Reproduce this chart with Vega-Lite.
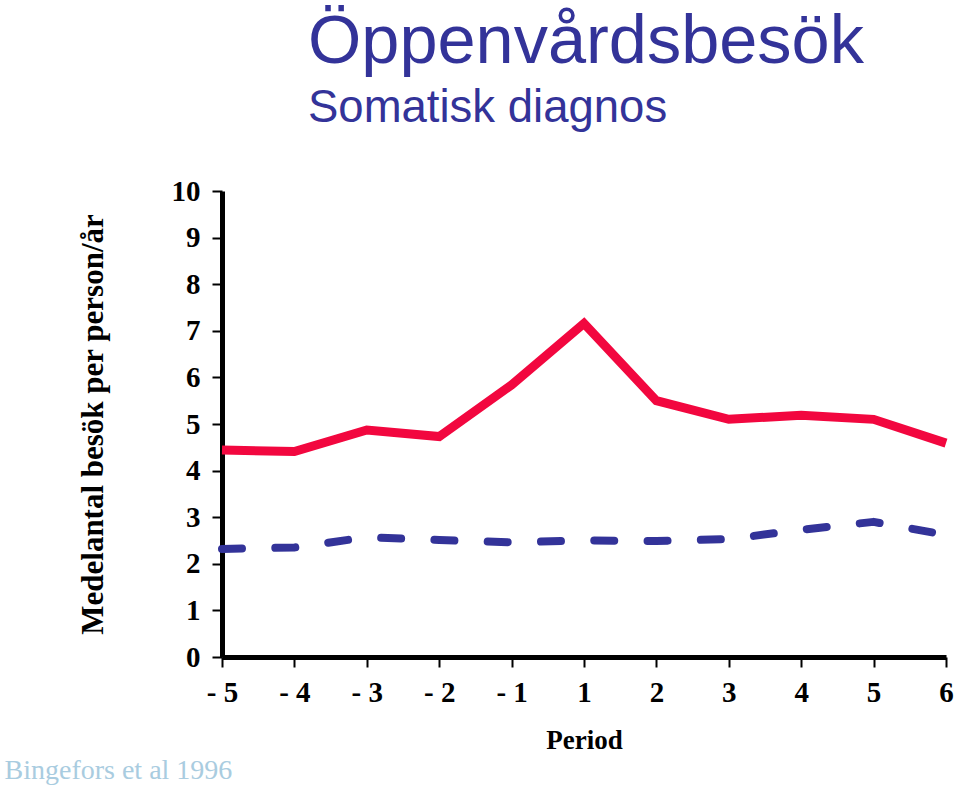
{
  "$schema": "https://vega.github.io/schema/vega-lite/v6.json",
  "autosize": "none",
  "padding": {"left": 222, "top": 191, "right": 14, "bottom": 131},
  "background": "white",
  "width": 724,
  "height": 466,
  "title": {
    "text": "Öppenvårdsbesök",
    "subtitle": "Somatisk diagnos",
    "anchor": "start",
    "frame": "group",
    "dx": 86,
    "offset": 45,
    "font": "Liberation Sans",
    "fontSize": 68.5,
    "fontWeight": "normal",
    "color": "#333399",
    "subtitleFont": "Liberation Sans",
    "subtitleFontSize": 45.5,
    "subtitleColor": "#333399",
    "subtitlePadding": 8
  },
  "data": {
    "values": [
      {"period": "- 5", "series": "A", "value": 4.44},
      {"period": "- 4", "series": "A", "value": 4.41},
      {"period": "- 3", "series": "A", "value": 4.87},
      {"period": "- 2", "series": "A", "value": 4.73},
      {"period": "- 1", "series": "A", "value": 5.84},
      {"period": "1", "series": "A", "value": 7.16},
      {"period": "2", "series": "A", "value": 5.50},
      {"period": "3", "series": "A", "value": 5.10},
      {"period": "4", "series": "A", "value": 5.19},
      {"period": "5", "series": "A", "value": 5.10},
      {"period": "6", "series": "A", "value": 4.59},
      {"period": "- 5", "series": "B", "value": 2.32},
      {"period": "- 4", "series": "B", "value": 2.35},
      {"period": "- 3", "series": "B", "value": 2.57},
      {"period": "- 2", "series": "B", "value": 2.51},
      {"period": "- 1", "series": "B", "value": 2.46},
      {"period": "1", "series": "B", "value": 2.50},
      {"period": "2", "series": "B", "value": 2.49},
      {"period": "3", "series": "B", "value": 2.53},
      {"period": "4", "series": "B", "value": 2.73},
      {"period": "5", "series": "B", "value": 2.90},
      {"period": "6", "series": "B", "value": 2.62}
    ]
  },
  "layer": [
    {
      "transform": [{"filter": "datum.series == 'A'"}],
      "mark": {"type": "line", "strokeWidth": 9, "strokeCap": "butt", "strokeJoin": "miter", "color": "#F2073F"},
      "encoding": {
        "x": {
          "field": "period",
          "type": "ordinal",
          "sort": ["- 5", "- 4", "- 3", "- 2", "- 1", "1", "2", "3", "4", "5", "6"],
          "scale": {"type": "point", "padding": 0},
          "axis": {
            "title": "Period",
            "orient": "bottom",
            "labelAngle": 0,
            "domainColor": "black",
            "domainWidth": 5,
            "tickColor": "black",
            "tickWidth": 2,
            "tickSize": 10,
            "labelFont": "Liberation Serif",
            "labelFontWeight": "bold",
            "labelFontSize": 29,
            "labelColor": "black",
            "labelPadding": 11,
            "titleFontWeight": "bold",
            "titleFontSize": 27,
            "titleColor": "black",
            "titlePadding": 20
          }
        },
        "y": {
          "field": "value",
          "type": "quantitative",
          "scale": {"domain": [0, 10]},
          "axis": {
            "title": "Medelantal besök per person/år",
            "values": [0, 1, 2, 3, 4, 5, 6, 7, 8, 9, 10],
            "grid": false,
            "domainColor": "black",
            "domainWidth": 5,
            "tickColor": "black",
            "tickWidth": 2,
            "tickSize": 10,
            "labelFont": "Liberation Serif",
            "labelFontWeight": "bold",
            "labelFontSize": 29,
            "labelColor": "black",
            "labelPadding": 12,
            "titleFont": "Liberation Serif",
            "titleFontWeight": "bold",
            "titleFontSize": 31,
            "titleColor": "black",
            "titlePadding": 62
          }
        }
      }
    },
    {
      "transform": [{"filter": "datum.series == 'B'"}],
      "mark": {"type": "line", "strokeWidth": 8, "strokeCap": "round", "strokeJoin": "round", "color": "#333399", "strokeDash": [20, 33.3]},
      "encoding": {
        "x": {
          "field": "period",
          "type": "ordinal",
          "sort": ["- 5", "- 4", "- 3", "- 2", "- 1", "1", "2", "3", "4", "5", "6"],
          "scale": {"type": "point", "padding": 0},
          "axis": {
            "title": "Bingefors et al 1996",
            "orient": "bottom",
            "domain": false,
            "ticks": false,
            "labels": false,
            "titleFontWeight": "normal",
            "titleFontSize": 28,
            "titleColor": "#A9CCE0",
            "titleAnchor": "start",
            "titleAlign": "left",
            "titleBaseline": "alphabetic",
            "titleX": -218,
            "titleY": 121
          }
        },
        "y": {"field": "value", "type": "quantitative"}
      }
    }
  ],
  "resolve": {"scale": {"x": "independent"}, "axis": {"x": "independent"}},
  "config": {
    "view": {"stroke": null},
    "axis": {"titleFont": "Liberation Serif"},
    "axisX": {"titleFont": "Liberation Serif"}
  }
}
